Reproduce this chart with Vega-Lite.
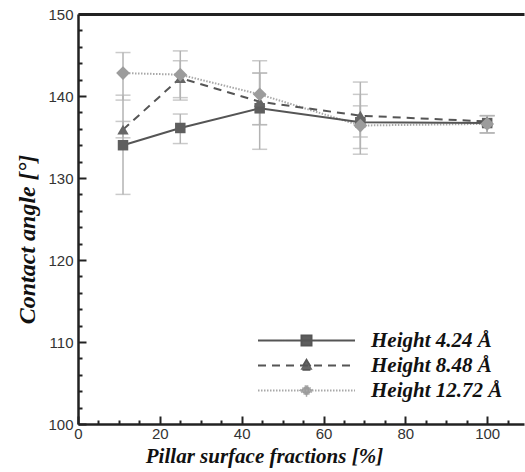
{
  "$schema": "https://vega.github.io/schema/vega-lite/v6.json",
  "width": 446,
  "height": 410,
  "autosize": {"type": "none"},
  "padding": {"left": 78, "top": 14, "right": 1, "bottom": 48},
  "background": "white",
  "config": {
    "view": {"stroke": null},
    "axis": {
      "grid": false,
      "domainColor": "#222222",
      "domainWidth": 2.5,
      "tickColor": "#222222",
      "tickWidth": 2,
      "labelFont": "Liberation Sans",
      "labelFontSize": 15,
      "labelColor": "#333333",
      "labelFlush": false,
      "titleFont": "Liberation Serif",
      "titleFontStyle": "italic",
      "titleFontWeight": "bold",
      "titleColor": "#111111"
    },
    "legend": {
      "title": null, "orient": "none", "legendX": 179, "legendY": 315, "symbolSize": 9409, "symbolStrokeWidth": 1.8,
      "clipHeight": 23, "rowPadding": 2, "labelOffset": 15, "symbolOffset": 0, "padding": 0,
      "labelFont": "Liberation Serif", "labelFontStyle": "italic", "labelFontWeight": "bold", "labelFontSize": 21, "labelColor": "#111111"
    }
  },
  "data": {
    "values": [
      {"s": "sq", "series": "Height 4.24 Å", "x": 11, "y": 134.0, "lo": 128.0, "hi": 140.1},
      {"s": "sq", "series": "Height 4.24 Å", "x": 25, "y": 136.1, "lo": 134.2, "hi": 137.8},
      {"s": "sq", "series": "Height 4.24 Å", "x": 44.4, "y": 138.5, "lo": 133.5, "hi": 142.8},
      {"s": "sq", "series": "Height 4.24 Å", "x": 69, "y": 136.8, "lo": 132.9, "hi": 140.2},
      {"s": "sq", "series": "Height 4.24 Å", "x": 100, "y": 136.7, "lo": 135.5, "hi": 137.6},
      {"s": "tr", "series": "Height 8.48 Å", "x": 11, "y": 135.9, "lo": 134.9, "hi": 136.9},
      {"s": "tr", "series": "Height 8.48 Å", "x": 25, "y": 142.2, "lo": 139.5, "hi": 144.3},
      {"s": "tr", "series": "Height 8.48 Å", "x": 44.4, "y": 139.3, "lo": 136.5, "hi": 142.8},
      {"s": "tr", "series": "Height 8.48 Å", "x": 69, "y": 137.6, "lo": 133.6, "hi": 141.7},
      {"s": "tr", "series": "Height 8.48 Å", "x": 100, "y": 136.9, "lo": 135.5, "hi": 137.6},
      {"s": "di", "series": "Height 12.72 Å", "x": 11, "y": 142.8, "lo": 139.5, "hi": 145.3},
      {"s": "di", "series": "Height 12.72 Å", "x": 25, "y": 142.6, "lo": 139.8, "hi": 145.5},
      {"s": "di", "series": "Height 12.72 Å", "x": 44.4, "y": 140.2, "lo": 136.5, "hi": 144.3},
      {"s": "di", "series": "Height 12.72 Å", "x": 69, "y": 136.4, "lo": 135.0, "hi": 138.8},
      {"s": "di", "series": "Height 12.72 Å", "x": 100, "y": 136.6, "lo": 135.5, "hi": 137.6}
    ]
  },
  "layer": [
    {
      "mark": {"type": "rule", "color": "#b3b3b3", "strokeWidth": 1.5},
      "encoding": {
        "x": {"field": "x", "type": "quantitative", "scale": {"domain": [0, 109], "nice": false, "zero": false},
          "axis": {"orient": "bottom", "values": [0, 20, 40, 60, 80, 100], "tickSize": -8, "labelPadding": 10,
            "title": "Pillar surface fractions [%]", "titleFontSize": 21, "titleX": 186, "titleY": 32, "titleBaseline": "middle"}},
        "y": {"field": "lo", "type": "quantitative", "scale": {"domain": [100, 150], "nice": false, "zero": false},
          "axis": {"orient": "left", "values": [100, 110, 120, 130, 140, 150], "tickSize": -8, "labelPadding": 13,
            "title": "Contact angle [°]", "titleFontSize": 24, "titleX": -51, "titleY": 225, "titleBaseline": "middle"}},
        "y2": {"field": "hi"}
      }
    },
    {
      "mark": {"type": "tick", "orient": "horizontal", "size": 15, "thickness": 1.5, "color": "#b3b3b3"},
      "encoding": {
        "x": {"field": "x", "type": "quantitative",
          "axis": {"orient": "bottom", "values": [5, 10, 15, 25, 30, 35, 45, 50, 55, 65, 70, 75, 85, 90, 95, 105], "tickSize": -4, "labels": false, "domain": false, "title": null}},
        "y": {"field": "lo", "type": "quantitative",
          "axis": {"orient": "left", "values": [102, 104, 106, 108, 112, 114, 116, 118, 122, 124, 126, 128, 132, 134, 136, 138, 142, 144, 146, 148], "tickSize": -4, "labels": false, "domain": false, "title": null}}
      }
    },
    {
      "mark": {"type": "tick", "orient": "horizontal", "size": 15, "thickness": 1.5, "color": "#b3b3b3"},
      "encoding": {
        "x": {"field": "x", "type": "quantitative",
          "axis": {"orient": "top", "ticks": false, "labels": false, "domain": true, "domainWidth": 3, "title": null}},
        "y": {"field": "hi", "type": "quantitative", "axis": null}
      }
    },
    {
      "transform": [{"filter": "datum.s == 'di'"}],
      "mark": {"type": "line", "color": "#a8a8a8", "strokeWidth": 2, "strokeDash": [1.5, 1.5]},
      "encoding": {
        "x": {"field": "x", "type": "quantitative", "axis": null},
        "y": {"field": "y", "type": "quantitative", "axis": null}
      }
    },
    {
      "transform": [{"filter": "datum.s == 'tr'"}],
      "mark": {"type": "line", "color": "#555555", "strokeWidth": 2, "strokeDash": [8, 6]},
      "encoding": {
        "x": {"field": "x", "type": "quantitative", "axis": null},
        "y": {"field": "y", "type": "quantitative", "axis": null}
      }
    },
    {
      "transform": [{"filter": "datum.s == 'sq'"}],
      "mark": {"type": "line", "color": "#555555", "strokeWidth": 2},
      "encoding": {
        "x": {"field": "x", "type": "quantitative", "axis": null},
        "y": {"field": "y", "type": "quantitative", "axis": null}
      }
    },
    {
      "transform": [{"filter": "datum.s == 'sq'"}],
      "mark": {"type": "point", "shape": "square", "filled": true, "size": 110, "color": "#5e5e5e", "opacity": 1},
      "encoding": {
        "x": {"field": "x", "type": "quantitative", "axis": null},
        "y": {"field": "y", "type": "quantitative", "axis": null}
      }
    },
    {
      "transform": [{"filter": "datum.s == 'tr'"}],
      "mark": {"type": "point", "shape": "triangle-up", "filled": true, "size": 130, "color": "#666666", "opacity": 1},
      "encoding": {
        "x": {"field": "x", "type": "quantitative", "axis": null},
        "y": {"field": "y", "type": "quantitative", "axis": null}
      }
    },
    {
      "transform": [{"filter": "datum.s == 'di'"}],
      "mark": {"type": "point", "shape": "diamond", "filled": true, "size": 190, "color": "#9c9c9c", "opacity": 1},
      "encoding": {
        "x": {"field": "x", "type": "quantitative", "axis": null},
        "y": {"field": "y", "type": "quantitative", "axis": null}
      }
    },
    {
      "transform": [{"filter": "false"}],
      "mark": {"type": "point", "filled": true, "strokeWidth": 1.8, "opacity": 1},
      "encoding": {
        "shape": {"field": "series", "type": "nominal",
          "scale": {"domain": ["Height 4.24 Å", "Height 8.48 Å", "Height 12.72 Å"],
            "range": ["M-1,0H1M-0.105,-0.105H0.105V0.105H-0.105Z", "M-1,0H1M0,-0.12L0.125,0.09H-0.125Z", "M-1,0H1M-0.13,0L0,-0.11L0.13,0L0,0.11Z"]}},
        "fill": {"field": "series", "type": "nominal",
          "scale": {"domain": ["Height 4.24 Å", "Height 8.48 Å", "Height 12.72 Å"], "range": ["#5e5e5e", "#666666", "#9c9c9c"]}},
        "stroke": {"field": "series", "type": "nominal",
          "scale": {"domain": ["Height 4.24 Å", "Height 8.48 Å", "Height 12.72 Å"], "range": ["#555555", "#555555", "#a8a8a8"]}},
        "strokeDash": {"field": "series", "type": "nominal",
          "scale": {"domain": ["Height 4.24 Å", "Height 8.48 Å", "Height 12.72 Å"], "range": [[1, 0], [8, 6], [1.5, 1.5]]}}
      }
    }
  ],
  "resolve": {"axis": {"x": "independent", "y": "independent"}}
}
